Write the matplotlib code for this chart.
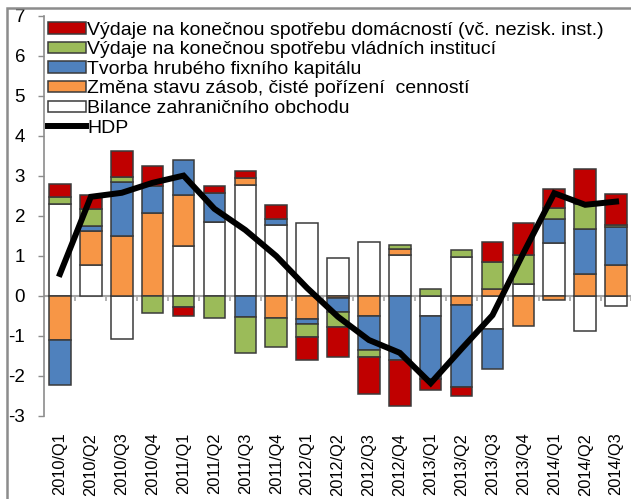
import numpy as np
import matplotlib
matplotlib.use("Agg")
import matplotlib.pyplot as plt
from matplotlib.patches import Rectangle
from matplotlib.lines import Line2D

plt.rcParams['font.family'] = ['Liberation Sans', 'DejaVu Sans']

quarters = ["2010/Q1", "2010/Q2", "2010/Q3", "2010/Q4", "2011/Q1", "2011/Q2", "2011/Q3",
            "2011/Q4", "2012/Q1", "2012/Q2", "2012/Q3", "2012/Q4", "2013/Q1", "2013/Q2",
            "2013/Q3", "2013/Q4", "2014/Q1", "2014/Q2", "2014/Q3"]

bilance = [2.30, 0.77, -1.07, 0.00, 1.24, 1.85, 2.78, 1.78, 1.82, 0.96, 1.34, 1.02, -0.49, 0.98,
           -0.83, 0.30, 1.33, -0.88, -0.24]
zasoby = [-1.10, 0.85, 1.49, 2.07, 1.28, 0.00, 0.18, -0.56, -0.58, -0.04, -0.49, 0.16, 0.00, -0.23,
          0.17, -0.75, -0.10, 0.56, 0.78]
tvorba = [-1.13, 0.12, 1.36, 0.67, 0.88, 0.73, -0.53, 0.14, -0.13, -0.35, -0.87, -1.60, -1.59, -2.04,
          -1.00, 0.00, 0.59, 1.12, 0.94]
vladni = [0.17, 0.44, 0.13, -0.43, -0.27, -0.56, -0.90, -0.71, -0.32, -0.39, -0.16, 0.09, 0.18, 0.16,
          0.68, 0.73, 0.27, 0.63, 0.06]
domacnosti = [0.33, 0.35, 0.64, 0.50, -0.22, 0.18, 0.17, 0.35, -0.58, -0.74, -0.93, -1.14, -0.27, -0.22,
              0.49, 0.79, 0.49, 0.86, 0.77]
hdp = [0.55, 2.48, 2.58, 2.83, 3.01, 2.18, 1.65, 1.00, 0.20, -0.52, -1.10, -1.42, -2.18, -1.32,
       -0.48, 1.07, 2.57, 2.28, 2.36]

labels = ["Výdaje na konečnou spotřebu domácností (vč. nezisk. inst.)",
          "Výdaje na konečnou spotřebu vládních institucí",
          "Tvorba hrubého fixního kapitálu",
          "Změna stavu zásob, čisté pořízení  cenností",
          "Bilance zahraničního obchodu",
          "HDP"]

W, H = 631, 499
fig = plt.figure(figsize=(W / 100, H / 100), dpi=100)
ax = fig.add_axes([44.5 / W, 83 / H, (631.5 - 44.5) / W, 400 / H])

x = np.arange(len(quarters))
series = [bilance, zasoby, tvorba, vladni, domacnosti]
colors = ['#FFFFFF', '#F79646', '#4F81BD', '#9BBB59', '#C00000']
pos_bottom = np.zeros(len(x))
neg_bottom = np.zeros(len(x))
handles = {}
for vals, col in zip(series, colors):
    v = np.array(vals)
    bottom = np.where(v >= 0, pos_bottom, neg_bottom)
    b = ax.bar(x, v, bottom=bottom, width=0.7, color=col, edgecolor='#3a3a3a', linewidth=1.1, zorder=3)
    handles[col] = b
    pos_bottom += np.where(v >= 0, v, 0)
    neg_bottom += np.where(v < 0, v, 0)

line, = ax.plot(x, hdp, color='black', linewidth=4.3, zorder=5, solid_joinstyle='miter')

ax.set_xlim(-0.5, 18.5)
ax.set_ylim(-3, 7)
ax.set_yticks(range(-3, 8))
ax.set_yticklabels([str(v) for v in range(-3, 8)])
ax.set_xticks(x)
ax.set_xticklabels(quarters, rotation=90, va='top', ha='center')
ax.tick_params(axis='x', length=0, pad=12, labelsize=11.8)
ax.tick_params(axis='y', direction='out', length=4, width=1, color='#8c8c8c', pad=10, labelsize=13.5)

for s in ['top', 'right', 'bottom']:
    ax.spines[s].set_visible(False)
ax.spines['left'].set_color('#8c8c8c')
ax.spines['left'].set_linewidth(1.2)

ax.axhline(0, color='#a6a6a6', linewidth=1.5, zorder=2)
bounds = np.arange(-0.5, len(x), 1.0)
ax.vlines(bounds[1:], -0.12, 0, color='#a6a6a6', linewidth=1.2, zorder=2)

leg_handles = [handles['#C00000'], handles['#9BBB59'], handles['#4F81BD'], handles['#F79646'],
               handles['#FFFFFF'], Line2D([], [], color='black', linewidth=4.3)]
leg = ax.legend(leg_handles, labels, loc='upper left', bbox_to_anchor=(0.0, 0.995),
                frameon=False, fontsize=14, handlelength=1.95, handleheight=0.5,
                handletextpad=0.05, labelspacing=0.13, borderaxespad=0, borderpad=0.2)

fig.add_artist(Rectangle((7 / W, -0.1), 1.0, 1 - 8 / H + 0.1, transform=fig.transFigure,
                         fill=False, edgecolor='#8c8c8c', linewidth=1.8))

fig.savefig('out.png', dpi=100)
